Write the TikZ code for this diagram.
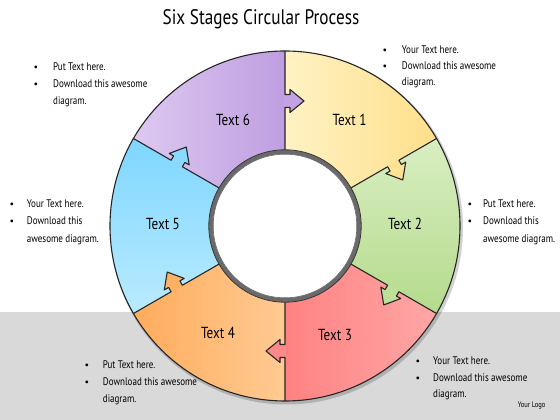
\documentclass[tikz,border=0pt]{standalone}
\usepackage{fontspec}
\setmainfont{PT Sans}
\newfontfamily\hand[FakeStretch=0.82]{PT Sans}
\definecolor{bandgray}{HTML}{D9D9D9}
\definecolor{ringgray}{HTML}{6A6A6A}
\definecolor{yA}{HTML}{FFF2C4}\definecolor{yB}{HTML}{FFDF8A}
\definecolor{gA}{HTML}{D9EEC2}\definecolor{gB}{HTML}{B4DB8C}
\definecolor{rA}{HTML}{FF8282}\definecolor{rB}{HTML}{FFA6A6}
\definecolor{oA}{HTML}{FFAC5C}\definecolor{oB}{HTML}{FFCA92}
\definecolor{bA}{HTML}{7ED6FF}\definecolor{bB}{HTML}{BAEBFF}
\definecolor{pA}{HTML}{DDC9F1}\definecolor{pB}{HTML}{BF9EE0}
\definecolor{arrP}{HTML}{C2A2E2}
\definecolor{arrY}{HTML}{FFE294}
\definecolor{arrG}{HTML}{BCE098}
\definecolor{arrR}{HTML}{FF8888}
\definecolor{arrO}{HTML}{FFB264}
\definecolor{arrB}{HTML}{8ADAFF}
\newcommand\myblock[8]{%
 \node[bul] (#1b1) at (#2,#4) {•};
 \node[btxt] (#1l1) at (#3,#4) {#6};
 \node[bul] (#1b2) at (#2,#4-#5) {•};
 \node[btxt] (#1l2) at (#3,#4-#5) {#7};
 \node[btxt] (#1l3) at (#3,#4-2*#5) {#8};}
\begin{document}
\begin{tikzpicture}[x=1pt,y=1pt,
  bord/.style={draw=black!85, line width=1.1pt, line join=round},
  lbl/.style={font=\hand\fontsize{16}{16}\selectfont, text=black, inner sep=0pt},
  btxt/.style={font=\hand\fontsize{11}{11}\selectfont, anchor=base west, inner sep=0pt, text=black},
  bul/.style={font=\fontsize{10}{10}\selectfont, anchor=base, inner sep=0pt, text=black}]
\useasboundingbox (0,0) rectangle (560,420);
\fill[white] (0,0) rectangle (560,420);
\fill[bandgray] (0,0) rectangle (560,108);
\coordinate (C) at (285,194);
% shadow
\fill[black, opacity=0.18] (286.5,192) circle[radius=176.5];
% sectors
\shade[left color=yA, right color=yB] (C) -- ++(90:175) arc[start angle=90, end angle=30, radius=175] -- cycle;
\shade[top color=gA, bottom color=gB] (C) -- ++(30:175) arc[start angle=30, end angle=-30, radius=175] -- cycle;
\shade[left color=rA, right color=rB] (C) -- ++(-30:175) arc[start angle=-30, end angle=-90, radius=175] -- cycle;
\shade[left color=oA, right color=oB] (C) -- ++(-90:175) arc[start angle=-90, end angle=-150, radius=175] -- cycle;
\shade[top color=bA, bottom color=bB] (C) -- ++(-150:175) arc[start angle=-150, end angle=-210, radius=175] -- cycle;
\shade[left color=pA, right color=pB] (C) -- ++(150:175) arc[start angle=150, end angle=90, radius=175] -- cycle;
% arrows and dividers
\foreach \ang/\col in {90/arrP, 30/arrY, -30/arrG, -90/arrR, -150/arrO, 150/arrB}{
  \begin{scope}[shift={(C)}, rotate=\ang-90]
    \fill[\col] (-1,118.5) -- (5,118.5) -- (5,113.5) -- (19,125) -- (5,136.5) -- (5,131.5) -- (-1,131.5) -- cycle;
    \draw[bord] (0,74) -- (0,118.5) -- (5,118.5) -- (5,113.5) -- (19,125) -- (5,136.5) -- (5,131.5) -- (0,131.5) -- (0,175);
  \end{scope}
}
\draw[bord] (C) circle[radius=175];
% inner circle
\fill[white] (C) circle[radius=74];
\draw[ringgray, line width=4pt] (C) circle[radius=74];
\draw[black!80, line width=0.8pt] (C) circle[radius=76.2];
\draw[black!60, line width=0.6pt] (C) circle[radius=71.8];
% labels
\node[lbl] (t1) at (349.5,300) {Text 1};
\node[lbl] (t2) at (405,196) {Text 2};
\node[lbl] (t3) at (335,85) {Text 3};
\node[lbl] (t4) at (218,87) {Text 4};
\node[lbl] (t5) at (163,196) {Text 5};
\node[lbl] (t6) at (233,300) {Text 6};
% title
\node[font=\hand\fontsize{21}{21}\selectfont, anchor=base, inner sep=0pt] (title) at (261,395) {Six Stages Circular Process};
% text blocks
\myblock{tl}{36}{53}{349.3}{16.7}{Put Text here.}{Download this awesome}{diagram.}
\myblock{tr}{385}{401.7}{366.7}{16.2}{Your Text here.}{Download this awesome}{diagram.}
\myblock{lm}{12}{26.7}{212.7}{17.5}{Your Text here.}{Download this}{awesome diagram.}
\myblock{rm}{470}{483}{212.7}{17.5}{Put Text here.}{Download this}{awesome diagram.}
\myblock{bl}{87}{102.7}{51.7}{17}{Put Text here.}{Download this awesome}{diagram.}
\myblock{br}{418}{433}{55}{16.5}{Your Text here.}{Download this awesome}{diagram.}
\node[font=\hand\fontsize{8}{8}\selectfont, anchor=base, inner sep=0pt, text=black] (logo) at (531.6,12) {Your Logo};
\end{tikzpicture}
\end{document}
